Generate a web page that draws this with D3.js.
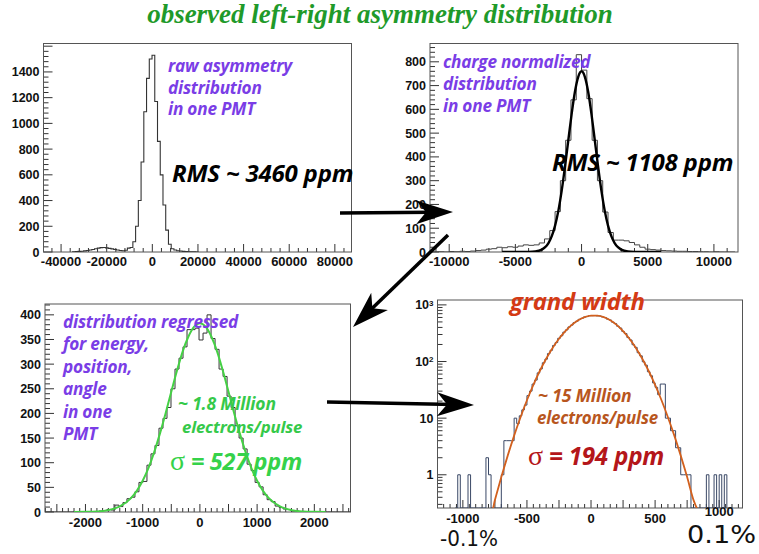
<!DOCTYPE html>
<html>
<head>
<meta charset="utf-8">
<script src="https://cdn.jsdelivr.net/npm/d3@7"></script>
<style>
  body { margin: 0; background: #fff; }
  svg { display: block; }
</style>
</head>
<body>
<script>
// ---- values ----

// panel 1: raw asymmetry (bins of 1200 ppm starting at raw_lo)
const raw_lo = -34930, raw_width = 1200
const raw_counts = [2, 3, 5, 6, 9, 12, 16, 20, 25, 30, 34, 35, 32, 28, 24, 20, 15, 12, 10, 14,
  30, 35, 80, 200, 400, 700, 1090, 1350, 1500, 1530, 1170, 860, 600, 365, 170, 60, 25, 15, 10, 8,
  5, 3, 2, 1, 1, 0]
const raw_xticks = [-40000, -20000, 0, 20000, 40000, 60000, 80000]
const raw_yticks = [0, 200, 400, 600, 800, 1000, 1200, 1400]

// panel 2: charge normalized (bins of 400 ppm)
const norm_lo = -11200, norm_width = 400
const norm_counts = [0, 1, 0, 2, 1, 3, 2, 4, 6, 8, 12, 14, 20, 18, 22, 20, 25, 30, 28, 30,
  38, 55, 90, 170, 300, 470, 640, 830, 765, 645, 470, 300, 168, 82, 50, 50, 47, 40, 30, 20,
  12, 10, 8, 6, 5, 4, 3, 3, 2, 2, 1, 1, 0, 1, 0, 0, 0]
const norm_fit_x = [-6000, -5000, -4500, -4000, -3500, -3000, -2750, -2500, -2250, -2000, -1750, -1500, -1250, -1000, -750, -500, -250, 0,
  250, 500, 750, 1000, 1250, 1500, 1750, 2000, 2250, 2500, 2750, 3000, 3500, 4000, 4500, 5000, 6000]
const norm_fit_y = [0, 0, 0.04, 0.35, 2.1, 10.1, 20.1, 37.7, 66.7, 111, 174, 258, 359, 470, 580, 674, 737, 760,
  737, 674, 580, 470, 359, 258, 174, 111, 66.7, 37.7, 20.1, 10.1, 2.1, 0.35, 0.04, 0, 0]
const norm_xticks = [-10000, -5000, 0, 5000, 10000]
const norm_yticks = [0, 100, 200, 300, 400, 500, 600, 700, 800]

// panel 3: regressed (bins of 70 ppm)
const reg_lo = -2745, reg_width = 70
const reg_counts = [0, 0, 0, 0, 0, 0, 0, 0, 0, 0, 0, 0,
  1, 0, 2, 3, 5, 4, 14, 11, 19, 27, 30, 41, 60, 62, 95, 118, 135, 170, 190, 212, 250, 290, 312, 335, 370, 370, 373,
  349, 363, 400, 352, 330, 290, 275, 235, 212, 175, 150, 128, 97, 84, 60, 51, 35, 25, 21, 12, 9, 6, 5, 2, 2, 1, 0,
  1, 0, 0, 0, 0, 0, 0, 0, 0, 0, 0, 0]
const reg_fit_x = [-2200, -2000, -1800, -1600, -1400, -1200, -1100, -1000, -900, -800, -700, -600, -500, -400, -300, -200, -100, 0,
  100, 200, 300, 400, 500, 600, 700, 800, 900, 1000, 1100, 1200, 1400, 1600, 1800, 2000, 2200]
const reg_fit_y = [0.06, 0.29, 1.1, 3.8, 11.2, 28.7, 43.4, 63.3, 89, 121, 158.5, 200, 244, 287, 326, 356, 376, 383,
  376, 356, 326, 287, 244, 200, 158.5, 121, 89, 63.3, 43.4, 28.7, 11.2, 3.8, 1.1, 0.29, 0.06]
const reg_xticks = [-2000, -1000, 0, 1000, 2000]
const reg_yticks = [0, 50, 100, 150, 200, 250, 300, 350, 400]

// panel 4: grand width, log scale (bins of 20 ppm)
const grand_lo = -1060, grand_width = 20
const grand_counts = [0, 1, 0, 0, 0, 1, 0, 0, 0, 0, 0, 0, 2, 1, 0, 0, 0, 0, 1, 4,
  4, 4, 4, 10, 8, 11, 14, 17, 25, 30, 40, 47, 63, 74, 95, 110, 138, 158, 192, 216,
  257, 285, 330, 362, 408, 440, 486, 515, 556, 578, 610, 622, 645, 645, 648, 640, 637, 612, 598, 560,
  540, 495, 468, 420, 390, 340, 312, 265, 240, 198, 178, 143, 126, 99, 86, 66, 56, 42, 35, 26,
  40, 40, 10, 10, 6, 6, 3, 3, 1, 1, 1, 1, 0, 0, 0, 0, 0, 0, 1, 0,
  0, 1, 0, 1, 0, 1]
const grand_fit_x = [-800, -780, -750, -700, -650, -600, -550, -500, -450, -400, -350, -300, -250, -200, -150, -100, -50, 0,
  50, 100, 150, 200, 250, 300, 350, 400, 450, 500, 550, 600, 650, 700, 750, 800, 850]
const grand_fit_y = [0.131, 0.197, 0.357, 0.911, 2.18, 4.92, 10.4, 20.7, 38.7, 68, 112, 174, 253, 345, 443, 535, 606, 645,
  645, 606, 535, 443, 345, 253, 174, 112, 68, 38.7, 20.7, 10.4, 4.92, 2.18, 0.911, 0.357, 0.131]
const grand_xticks = [-1000, -500, 0, 500, 1000]
const grand_yticks = [1, 10, 100, 1000]

// ---- drawing ----
const W = 759, H = 554
const svg = d3.select('body').append('svg')
    .attr('width', W)
    .attr('height', H)
    .style('font-family', '"Liberation Sans", Arial, sans-serif')

svg.append('rect').attr('width', W).attr('height', H).attr('fill', '#fff')

const defs = svg.append('defs')

// builds one ROOT-style frame with inward ticks
function makePanel(p) {
    const x = d3.scaleLinear().domain(p.xdom).range([p.left, p.right])
    const y = (p.log ? d3.scaleLog() : d3.scaleLinear()).domain(p.ydom).range([p.bottom, p.top])
    const g = svg.append('g')

    defs.append('clipPath').attr('id', 'clip-' + p.name)
        .append('rect')
        .attr('x', p.left).attr('y', p.top)
        .attr('width', p.right - p.left).attr('height', p.bottom - p.top)

    const ticks = g.append('g').attr('stroke', '#333').attr('stroke-width', 1)

    // x minor + major ticks
    const [x0, x1] = p.xdom
    d3.range(Math.ceil(x0 / p.xminor) * p.xminor, x1, p.xminor).forEach(v => {
        const major = Math.abs(v % p.xmid) < 1e-6
        ticks.append('line')
            .attr('x1', x(v)).attr('x2', x(v))
            .attr('y1', p.bottom).attr('y2', p.bottom - (major ? 8 : 4))
    })

    // y ticks
    if (p.log) {
        for (let e = -1; e <= 3; e++) {
            for (let m = 1; m <= 9; m++) {
                const v = m * Math.pow(10, e)
                if (v < p.ydom[0] || v > p.ydom[1]) continue
                ticks.append('line')
                    .attr('x1', p.left).attr('x2', p.left + (m == 1 ? 9 : 5))
                    .attr('y1', y(v)).attr('y2', y(v))
            }
        }
    } else {
        d3.range(0, p.ydom[1], p.yminor).forEach(v => {
            const major = Math.abs(v % p.ymajor) < 1e-6
            ticks.append('line')
                .attr('x1', p.left).attr('x2', p.left + (major ? 9 : 5))
                .attr('y1', y(v)).attr('y2', y(v))
        })
    }

    // frame
    g.append('rect')
        .attr('x', p.left).attr('y', p.top)
        .attr('width', p.right - p.left).attr('height', p.bottom - p.top)
        .attr('fill', 'none').attr('stroke', '#555').attr('stroke-width', 1)

    // tick labels (the last one of the log panel sits a little higher, as in the original)
    g.append('g').selectAll('text').data(p.xticks).join('text')
        .attr('x', d => x(d))
        .attr('y', (d, i) => p.bottom + p.xlabelDy - (p.log && i == p.xticks.length - 1 ? 7 : 0))
        .attr('text-anchor', 'middle')
        .attr('font-size', 13).attr('font-weight', 'bold').attr('fill', '#111')
        .text(d => d)

    const yl = g.append('g').selectAll('text').data(p.yticks).join('text')
        .attr('x', p.left - 4).attr('y', d => y(d))
        .attr('dy', '0.36em')
        .attr('text-anchor', 'end')
        .attr('font-size', 12.5).attr('font-weight', 'bold').attr('fill', '#111')
    if (p.log) {
        yl.each(function(d) {
            const t = d3.select(this)
            if (d == 1) t.text('1')
            else if (d == 10) t.text('10')
            else {
                t.append('tspan').text('10')
                t.append('tspan').attr('dy', '-0.45em').attr('font-size', 8).text(Math.log10(d))
            }
        })
    } else {
        yl.text(d => d)
    }

    return { x, y, g, clip: 'url(#clip-' + p.name + ')' }
}

function histPath(P, lo, width, counts, ymin) {
    const pts = [[lo, ymin]]
    counts.forEach((c, i) => pts.push([lo + i * width, Math.max(c, ymin)]))
    pts.push([lo + counts.length * width, Math.max(counts[counts.length - 1], ymin)])
    pts.push([lo + counts.length * width, ymin])
    return d3.line()
        .x(d => P.x(d[0]))
        .y(d => P.y(d[1]))
        .curve(d3.curveStepAfter)(pts)
}

function fitPath(P, xs, ys, ymin) {
    return d3.line()
        .x((d, i) => P.x(xs[i]))
        .y(d => P.y(Math.max(d, ymin)))
        .curve(d3.curveMonotoneX)(ys)
}

// panel 1
const P1 = makePanel({ name: 'raw', left: 43.5, right: 351.5, top: 43.5, bottom: 252,
    xdom: [-47700, 87300], ydom: [0, 1621], xminor: 4000, xmid: 20000, yminor: 40, ymajor: 200,
    xticks: raw_xticks, yticks: raw_yticks, xlabelDy: 14 })
P1.g.append('path')
    .attr('d', histPath(P1, raw_lo, raw_width, raw_counts, 0))
    .attr('clip-path', P1.clip)
    .attr('fill', 'none').attr('stroke', '#333').attr('stroke-width', 1.1)

// panel 2
const P2 = makePanel({ name: 'norm', left: 430, right: 738, top: 43.5, bottom: 252,
    xdom: [-11450, 11820], ydom: [0, 877], xminor: 1000, xmid: 2500, yminor: 20, ymajor: 100,
    xticks: norm_xticks, yticks: norm_yticks, xlabelDy: 14 })
P2.g.append('path')
    .attr('d', histPath(P2, norm_lo, norm_width, norm_counts, 0))
    .attr('clip-path', P2.clip)
    .attr('fill', 'none').attr('stroke', '#444').attr('stroke-width', 1)
P2.g.append('path')
    .attr('d', fitPath(P2, norm_fit_x, norm_fit_y, 0))
    .attr('clip-path', P2.clip)
    .attr('fill', 'none').attr('stroke', '#000').attr('stroke-width', 2.4)

// panel 3
const P3 = makePanel({ name: 'reg', left: 45, right: 350.5, top: 304, bottom: 512,
    xdom: [-2707, 2632], ydom: [0, 422], xminor: 100, xmid: 500, yminor: 10, ymajor: 50,
    xticks: reg_xticks, yticks: reg_yticks, xlabelDy: 15 })
P3.g.append('path')
    .attr('d', histPath(P3, reg_lo, reg_width, reg_counts, 0))
    .attr('clip-path', P3.clip)
    .attr('fill', 'none').attr('stroke', '#333').attr('stroke-width', 1)
P3.g.append('path')
    .attr('d', fitPath(P3, reg_fit_x, reg_fit_y, 0))
    .attr('clip-path', P3.clip)
    .attr('fill', 'none').attr('stroke', '#45d045').attr('stroke-width', 2)

// panel 4 (log)
const P4 = makePanel({ name: 'grand', left: 437.5, right: 742.5, top: 300, bottom: 508, log: true,
    xdom: [-1198, 1182], ydom: [0.259, 1220], xminor: 50, xmid: 250,
    xticks: grand_xticks, yticks: grand_yticks, xlabelDy: 15 })
P4.g.append('path')
    .attr('d', histPath(P4, grand_lo, grand_width, grand_counts, 0.259))
    .attr('clip-path', P4.clip)
    .attr('fill', 'none').attr('stroke', '#3a4866').attr('stroke-width', 1)
P4.g.append('path')
    .attr('d', fitPath(P4, grand_fit_x, grand_fit_y, 0.2))
    .attr('clip-path', P4.clip)
    .attr('fill', 'none').attr('stroke', '#d2601e').attr('stroke-width', 1.8)

// ---- annotations ----
const note = '"Open Sans", "Lato", sans-serif'

function lines(xp, y0, dy, texts, size, color) {
    texts.forEach((t, i) => {
        svg.append('text')
            .attr('x', xp).attr('y', y0 + i * dy)
            .attr('font-family', note).attr('font-style', 'italic').attr('font-weight', 'bold')
            .attr('font-size', size).attr('fill', color)
            .attr('letter-spacing', -0.2)
            .text(t)
    })
}

const purple = '#7a3de6'
lines(168, 72, 21.5, ['raw asymmetry', 'distribution', 'in one PMT'], 17.2, purple)
lines(443, 68, 22, ['charge normalized', 'distribution', 'in one PMT'], 17.2, purple)
lines(63, 328, 22.4, ['distribution regressed', 'for energy,', 'position,', 'angle', 'in one', 'PMT'], 17.2, purple)

lines(172, 182, 0, ['RMS ~ 3460 ppm'], 24, '#000')
lines(552, 171, 0, ['RMS ~ 1108 ppm'], 24, '#000')

lines(178, 410, 0, ['~ 1.8 Million'], 17.5, '#35c94a')
lines(182, 433, 0, ['electrons/pulse'], 16.8, '#35c94a')

lines(510, 310, 0, ['grand width'], 24, '#d43a14')
lines(538, 402, 0, ['~ 15 Million'], 17.6, '#b8561e')
lines(537, 424, 0, ['electrons/pulse'], 16.9, '#b8561e')

function sigma(xp, yp, value, color, size) {
    const t = svg.append('text')
        .attr('x', xp).attr('y', yp)
        .attr('fill', color).attr('font-size', size)
    t.append('tspan').attr('font-family', '"Liberation Serif", serif').attr('font-size', 28).text('σ')
    t.append('tspan').attr('font-family', note).attr('font-style', 'italic').attr('font-weight', 'bold')
        .attr('letter-spacing', -0.3)
        .text(' = ' + value + ' ppm')
}
sigma(170, 470, 527, '#35d24a', 23.5)
sigma(528, 465, 194, '#b4161a', 24.3)

svg.append('text').attr('x', 440).attr('y', 546)
    .attr('font-family', '"DejaVu Sans", sans-serif').attr('font-size', 22).attr('fill', '#111')
    .attr('textLength', 58).attr('lengthAdjust', 'spacingAndGlyphs')
    .text('-0.1%')
svg.append('text').attr('x', 687).attr('y', 543)
    .attr('font-family', '"DejaVu Sans", sans-serif').attr('font-size', 24).attr('fill', '#111')
    .attr('textLength', 69).attr('lengthAdjust', 'spacingAndGlyphs')
    .text('0.1%')

// title
svg.append('text')
    .attr('x', 380).attr('y', 23)
    .attr('text-anchor', 'middle')
    .attr('font-family', '"Liberation Serif", "Times New Roman", serif')
    .attr('font-style', 'italic').attr('font-weight', 'bold')
    .attr('font-size', 27).attr('fill', '#1f9a2a')
    .text('observed left-right asymmetry distribution')

// ---- arrows ----
const arrows = [
    { from: [340, 213], to: [453, 212] },
    { from: [448, 235], to: [353, 327] },
    { from: [327, 402], to: [474, 405] }
]
arrows.forEach(a => {
    const dx = a.to[0] - a.from[0], dy = a.to[1] - a.from[1]
    const len = Math.hypot(dx, dy), ang = Math.atan2(dy, dx) * 180 / Math.PI
    const g = svg.append('g')
        .attr('transform', `translate(${a.from[0]},${a.from[1]}) rotate(${ang})`)
    g.append('line').attr('x1', 0).attr('x2', len - 20)
        .attr('stroke', '#000').attr('stroke-width', 3.5)
    g.append('path')
        .attr('d', `M${len},0 L${len - 37},-12 L${len - 27},0 L${len - 37},12 Z`)
        .attr('fill', '#000')
})
</script>
</body>
</html>
